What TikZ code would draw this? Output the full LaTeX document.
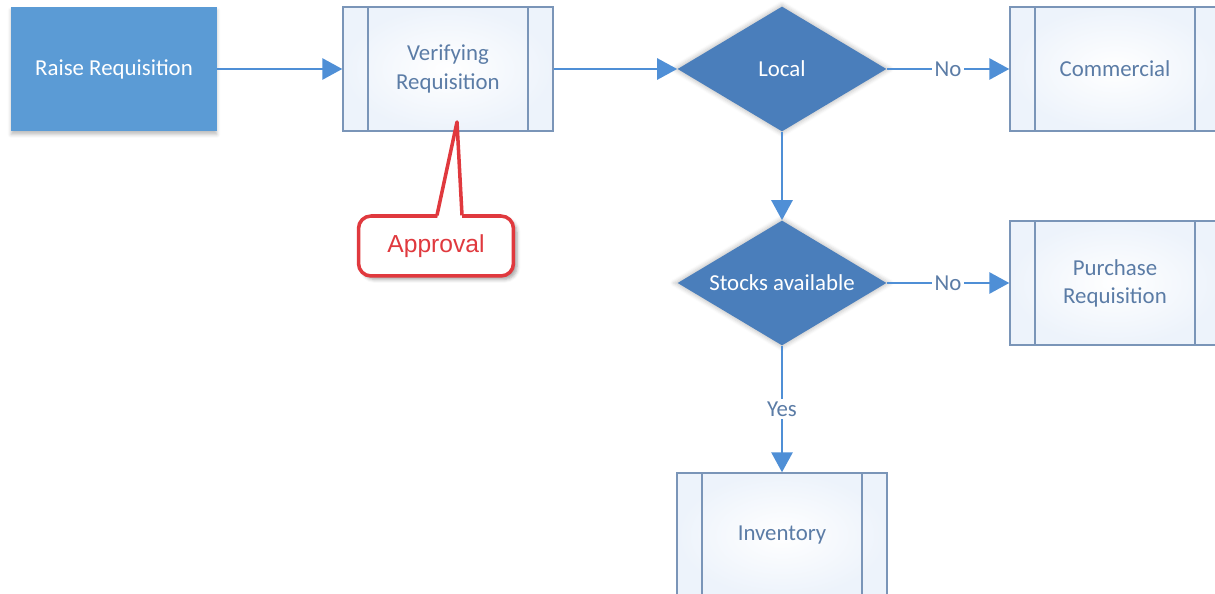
\documentclass[tikz,border=0pt]{standalone}
\usepackage{fontspec}
\setmainfont{Carlito}
\newfontfamily\calloutfont{Liberation Sans}
\usepackage{xcolor}
\usetikzlibrary{arrows.meta,positioning,calc,shapes,shadows.blur}
\definecolor{boxblue}{HTML}{5B9BD5}
\definecolor{decblue}{HTML}{4A7EBB}
\definecolor{lineblue}{HTML}{4F8FD6}
\definecolor{edgegray}{HTML}{7A95B8}
\definecolor{textslate}{HTML}{5B7CA6}
\definecolor{paleblue}{HTML}{EDF3FB}
\definecolor{calloutred}{HTML}{E0393E}

\begin{document}
\begin{tikzpicture}[x=0.02cm, y=-0.02cm,
    every node/.style={font=\fontsize{13}{16}\selectfont},
    startbox/.style={rectangle, fill=boxblue, text=white, minimum width=4.12cm, minimum height=2.48cm,
        blur shadow={shadow xshift=0pt, shadow yshift=-2pt, shadow opacity=25}},
    procbox/.style={rectangle, draw=edgegray, line width=0.8pt, inner color=white, outer color=paleblue,
        minimum width=4.2cm, minimum height=2.48cm, text=textslate, align=center,
        path picture={\draw[edgegray, line width=0.8pt]
            ([xshift=0.5cm]path picture bounding box.north west) -- ([xshift=0.5cm]path picture bounding box.south west)
            ([xshift=-0.5cm]path picture bounding box.north east) -- ([xshift=-0.5cm]path picture bounding box.south east);}},
    decision/.style={diamond, fill=decblue, text=white, aspect=1.67, inner sep=0pt,
        minimum width=4.18cm, minimum height=2.5cm,
        blur shadow={shadow xshift=0pt, shadow yshift=0pt, shadow scale=1.04, shadow opacity=20}},
    flow/.style={lineblue, line width=1.6pt, -{Triangle[length=0.4cm, width=0.42cm]}},
    lbl/.style={fill=white, text=textslate, inner sep=1.5pt},
    callout/.style={rectangle, rounded corners=0.25cm, draw=calloutred, line width=2pt, fill=white,
        minimum width=3.1cm, minimum height=1.2cm, text=calloutred, font=\calloutfont\fontsize{14}{16}\selectfont,
        blur shadow={shadow xshift=2pt, shadow yshift=-2pt, shadow opacity=35}}]
    \useasboundingbox (0,0) rectangle (1215,594);
    \clip (0,0) rectangle (1215,594);

    % Steps
    \node[startbox] (raise) at (114,69) {Raise Requisition};
    \node[procbox] (verify) at (448,69) {Verifying\\Requisition};
    \node[decision] (local) at (782,69) {Local};
    \node[procbox] (commercial) at (1115,69) {Commercial};
    \node[decision] (stocks) at (782,283) {Stocks available};
    \node[procbox] (purchase) at (1115,283) {Purchase\\Requisition};
    \node[procbox] (inventory) at (782,535) {Inventory};

    % Flow
    \draw[flow] (raise) -- (verify);
    \draw[flow] (verify) -- (local);
    \draw[flow] (local) -- node[lbl] {No} (commercial);
    \draw[flow] (local) -- (stocks);
    \draw[flow] (stocks) -- node[lbl] {No} (purchase);
    \draw[flow] (stocks) -- node[lbl] {Yes} (inventory);

    % Callout
    \node[callout] (approval) at (436,246) {Approval};
    \coordinate (tip) at (457,122);
    \fill[white] ($(approval.north)+(1,5)$) -- (tip) -- ($(approval.north)+(26,5)$) -- cycle;
    \draw[calloutred, line width=2pt, line join=round] ($(approval.north)+(1,1)$) -- (tip) -- ($(approval.north)+(26,1)$);
\end{tikzpicture}
\end{document}
